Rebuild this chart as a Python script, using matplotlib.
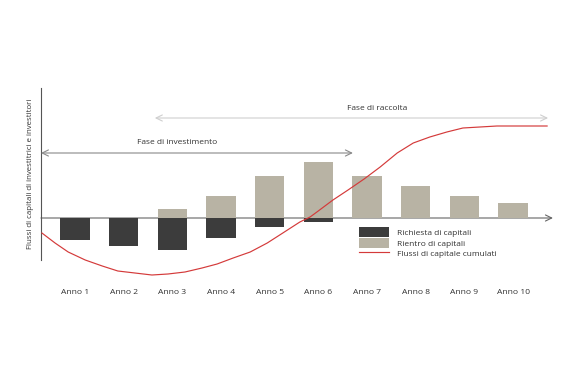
import numpy as np
import matplotlib.pyplot as plt

plt.rcParams['font.family'] = ['Open Sans', 'DejaVu Sans']

# data (in chart units, 0 = x axis)
years = ["Anno 1", "Anno 2", "Anno 3", "Anno 4", "Anno 5",
         "Anno 6", "Anno 7", "Anno 8", "Anno 9", "Anno 10"]
calls = [22, 28, 32, 20, 9, 4, 0, 0, 0, 0]          # Richiesta di capitali
returns = [0, 0, 9, 22, 42, 56, 42, 32, 22, 15]      # Rientro di capitali

# cumulated capital flows
curve_x = [0.32, 0.59, 0.86, 1.21, 1.56, 1.88, 2.23, 2.58, 2.91, 3.26,
           3.61, 3.92, 4.25, 4.60, 4.95, 5.27, 5.62, 5.83, 5.97, 6.30,
           6.61, 6.94, 7.27, 7.62, 7.95, 8.29, 8.64, 8.97, 9.32, 9.67, 10.70]
curve_y = [-15, -25, -34, -42, -48, -53, -55, -57, -56, -54,
           -50, -46, -40, -34, -25, -15, -4, 1, 6, 18,
           28, 39, 51, 65, 75, 81, 86, 90, 91, 92, 92]

dark = "#3c3c3c"
beige = "#b8b3a4"
red = "#d43a3a"
txt = "#333333"

fig = plt.figure(figsize=(5.8, 3.86), dpi=100)
ax = fig.add_axes([0, 0, 1, 1])
ax.set_xlim(-0.541, 11.376)
ax.set_ylim(-168, 218)
ax.axis("off")

x = np.arange(1, len(years) + 1)
b1 = ax.bar(x, [-c for c in calls], width=0.6, color=dark, label="Richiesta di capitali", zorder=2)
b2 = ax.bar(x, returns, width=0.6, color=beige, label="Rientro di capitali", zorder=2)
l1, = ax.plot(curve_x, curve_y, color=red, lw=0.85, label="Flussi di capitale cumulati", zorder=3)

# axes
ax.plot([0.30, 0.30], [-42, 130], color="#555555", lw=0.8)
ax.annotate("", xy=(10.82, 0), xytext=(0.30, 0),
            arrowprops=dict(arrowstyle="->,head_length=0.45,head_width=0.22",
                            color="#666666", lw=0.8, shrinkA=0, shrinkB=0), zorder=1)

for xi, lab in zip(x, years):
    ax.text(xi, -74, lab, ha="center", va="center", fontsize=6.1, color=txt)

ax.text(0.08, 44, "Flussi di capitali di investitrici e investitori", rotation=90,
        ha="center", va="center", fontsize=5.7, color=txt)

# phases
ax.annotate("", xy=(6.71, 65), xytext=(0.30, 65),
            arrowprops=dict(arrowstyle="<->,head_length=0.45,head_width=0.22",
                            color="#8a8a8a", lw=0.8, shrinkA=0, shrinkB=0))
ax.text(3.10, 75, "Fase di investimento", ha="center", va="center", fontsize=6, color=txt)

ax.annotate("", xy=(10.72, 100), xytext=(2.64, 100),
            arrowprops=dict(arrowstyle="<->,head_length=0.45,head_width=0.22",
                            color="#cfcfcf", lw=0.8, shrinkA=0, shrinkB=0))
ax.text(7.2, 109, "Fase di raccolta", ha="center", va="center", fontsize=6, color=txt)

leg = ax.legend(handles=[b1, b2, l1], loc="upper left",
                bbox_to_anchor=(355 / 580, 1 - 223 / 386),
                frameon=False, fontsize=6, handlelength=3.6, handleheight=1.5,
                labelspacing=0.05, handletextpad=0.9, borderpad=0)
for t in leg.get_texts():
    t.set_color(txt)

plt.savefig("out.png", dpi=100)
plt.close()
